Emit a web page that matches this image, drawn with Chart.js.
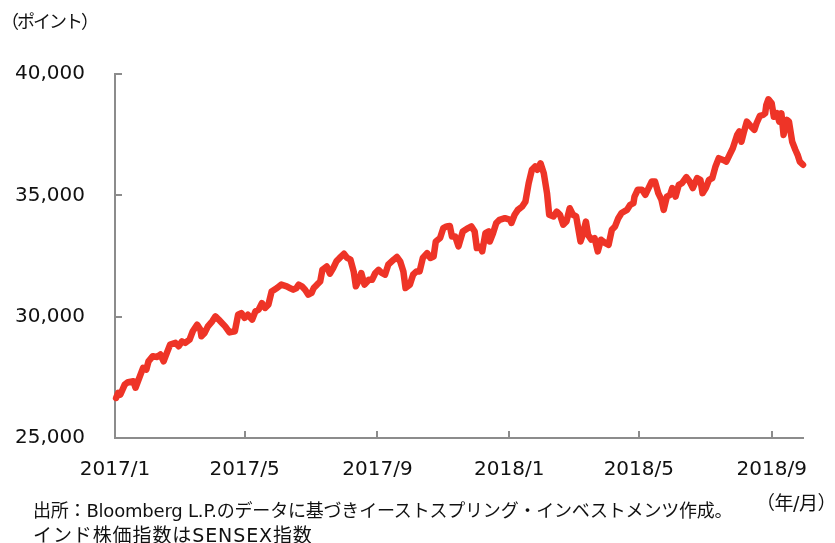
<!DOCTYPE html>
<html>
<head>
<meta charset="utf-8">
<script src="https://cdn.jsdelivr.net/npm/chart.js@4"></script>
<style>
  body { margin: 0; background: #fff; }
  #wrap { position: relative; width: 835px; height: 543px; }
  .note { position: absolute; white-space: nowrap; color: #111;
          font-family: "DejaVu Sans", "Noto Sans CJK JP", sans-serif; line-height: 20px; }
</style>
</head>
<body>
<div id="wrap">
  <canvas id="sensexChart"></canvas>
  <div class="note" id="unitY" style="left:1px; top:12px; font-size:18px; letter-spacing:-2px;">（ポイント）</div>
  <div class="note" id="unitX" style="left:756px; top:493px; font-size:19px; letter-spacing:-0.5px;">（年/月）</div>
  <div class="note" id="src1" style="left:33px; top:501px; font-size:18px; letter-spacing:-0.2px;">出所：Bloomberg L.P.のデータに基づきイーストスプリング・インベストメンツ作成。</div>
  <div class="note" id="src2" style="left:33px; top:525px; font-size:19px; letter-spacing:0.9px;">インド株価指数はSENSEX指数</div>
</div>
<script>
// SENSEX index
const dates = [
  "2017-01-02","2017-01-04","2017-01-06","2017-01-10","2017-01-13","2017-01-18","2017-01-20","2017-01-24","2017-01-27","2017-01-30",
  "2017-02-01","2017-02-05","2017-02-09","2017-02-12","2017-02-15","2017-02-18","2017-02-21","2017-02-26",
  "2017-03-01","2017-03-04","2017-03-07","2017-03-11","2017-03-14","2017-03-18","2017-03-21","2017-03-22","2017-03-25","2017-03-28",
  "2017-04-01","2017-04-04","2017-04-07","2017-04-10","2017-04-13","2017-04-17","2017-04-22","2017-04-25","2017-04-28",
  "2017-05-01","2017-05-04","2017-05-08","2017-05-11","2017-05-14","2017-05-17","2017-05-20","2017-05-23","2017-05-26","2017-05-31",
  "2017-06-04","2017-06-09","2017-06-12","2017-06-15","2017-06-18","2017-06-20","2017-06-23","2017-06-26","2017-06-29",
  "2017-07-02","2017-07-04","2017-07-07","2017-07-10","2017-07-12","2017-07-16","2017-07-19","2017-07-22","2017-07-25","2017-07-28",
  "2017-08-01","2017-08-04","2017-08-07","2017-08-10","2017-08-12","2017-08-15","2017-08-17","2017-08-20","2017-08-24","2017-08-27","2017-08-30",
  "2017-09-02","2017-09-05","2017-09-08","2017-09-11","2017-09-16","2017-09-19","2017-09-22","2017-09-25","2017-09-27",
  "2017-10-01","2017-10-04","2017-10-07","2017-10-10","2017-10-13","2017-10-17","2017-10-20","2017-10-23","2017-10-25","2017-10-29",
  "2017-11-01","2017-11-04","2017-11-07","2017-11-09","2017-11-12","2017-11-15","2017-11-19","2017-11-24","2017-11-27","2017-11-30",
  "2017-12-02","2017-12-05","2017-12-07","2017-12-10","2017-12-13","2017-12-14","2017-12-17","2017-12-20","2017-12-23","2017-12-28",
  "2018-01-02","2018-01-03","2018-01-06","2018-01-09","2018-01-13","2018-01-16","2018-01-19","2018-01-22","2018-01-25","2018-01-27","2018-01-30",
  "2018-02-02","2018-02-05","2018-02-07","2018-02-11","2018-02-14","2018-02-17","2018-02-20","2018-02-23","2018-02-26",
  "2018-03-01","2018-03-04","2018-03-08","2018-03-10","2018-03-13","2018-03-15","2018-03-18","2018-03-21","2018-03-24","2018-03-27","2018-03-31",
  "2018-04-03","2018-04-06","2018-04-09","2018-04-12","2018-04-15","2018-04-20","2018-04-23","2018-04-26","2018-04-27","2018-04-30",
  "2018-05-04","2018-05-07","2018-05-10","2018-05-13","2018-05-16","2018-05-19","2018-05-22","2018-05-24","2018-05-27","2018-05-30",
  "2018-06-01","2018-06-04","2018-06-07","2018-06-10","2018-06-14","2018-06-17","2018-06-20","2018-06-24","2018-06-27","2018-06-29",
  "2018-07-02","2018-07-05","2018-07-08","2018-07-11","2018-07-14","2018-07-18","2018-07-21","2018-07-24","2018-07-27","2018-07-31",
  "2018-08-02","2018-08-04","2018-08-06","2018-08-09","2018-08-13","2018-08-16","2018-08-18","2018-08-21","2018-08-24","2018-08-26","2018-08-27","2018-08-29",
  "2018-09-01","2018-09-03","2018-09-06","2018-09-08","2018-09-10","2018-09-12","2018-09-15","2018-09-17","2018-09-20","2018-09-23","2018-09-25","2018-09-27","2018-09-30"
];

const sensex = [
  26650,26860,26790,27200,27300,27340,27070,27540,27890,27820,
  28160,28370,28340,28440,28160,28510,28850,28920,
  28780,28980,28920,29050,29400,29670,29470,29190,29330,29600,
  29810,30010,29880,29740,29600,29350,29400,30080,30150,
  29950,30080,29880,30220,30290,30560,30360,30490,31040,31180,
  31320,31250,31180,31110,31180,31320,31250,31110,30910,
  30980,31180,31320,31450,31930,32070,31770,32000,32280,32420,
  32590,32420,32350,31860,31250,31520,31800,31320,31520,31520,31800,
  31930,31800,31730,32140,32350,32460,32280,31860,31180,
  31320,31730,31860,31860,32420,32620,32420,32480,33100,33240,
  33650,33720,33740,33300,33300,32900,33510,33650,33720,33510,
  32830,32890,32690,33440,33510,33100,33440,33860,33990,34060,
  33990,33860,34200,34400,34540,34740,35500,36050,36190,36050,36320,
  35910,35090,34200,34130,34330,34200,33790,33920,34470,
  34200,34130,33100,33370,33920,33370,33170,33240,32690,33170,33030,
  32960,33580,33720,34060,34270,34400,34610,34680,34950,35230,
  35230,35020,35300,35570,35570,35090,34810,34400,34950,35020,
  35300,34950,35430,35500,35750,35570,35300,35710,35640,35090,
  35300,35640,35710,36190,36530,36460,36390,36670,36940,37490,
  37630,37210,37560,38040,37830,37700,37970,38270,38310,38380,38720,38960,
  38790,38240,38380,38040,38380,37490,38110,38040,37210,36870,36670,36390,36260
];

const xTickMonths = ["2017-01-01","2017-05-01","2017-09-01","2018-01-01","2018-05-01","2018-09-01"];
const yTicks = [25000, 30000, 35000, 40000];
const xStart = "2017-01-01";
const xEnd = "2018-09-30";

const toMs = s => Date.parse(s + "T00:00:00Z");
const axisColor = "#8c8c8c";

// short tick marks pointing into the plot area
const innerTicks = {
  id: "innerTicks",
  afterDraw(chart) {
    const { ctx, chartArea, scales } = chart;
    ctx.save();
    ctx.strokeStyle = axisColor;
    ctx.lineWidth = 2;
    ctx.beginPath();
    yTicks.forEach(v => {
      const y = Math.round(scales.y.getPixelForValue(v));
      ctx.moveTo(chartArea.left, y);
      ctx.lineTo(chartArea.left + 7, y);
    });
    xTickMonths.forEach(d => {
      const x = Math.round(scales.x.getPixelForValue(toMs(d)));
      ctx.moveTo(x, chartArea.bottom);
      ctx.lineTo(x, chartArea.bottom - 7);
    });
    ctx.stroke();
    ctx.restore();
  }
};

const points = dates.map((d, i) => ({ x: toMs(d), y: sensex[i] }));

new Chart(document.getElementById("sensexChart"), {
  type: "line",
  data: {
    datasets: [{
      data: points,
      borderColor: "#ee3427",
      borderWidth: 6.5,
      pointRadius: 0,
      tension: 0,
      fill: false,
      clip: false,
      borderJoinStyle: "round",
      borderCapStyle: "round"
    }]
  },
  options: {
    responsive: true,
    maintainAspectRatio: false,
    animation: false,
    layout: { padding: { top: 74, right: 32, bottom: 0, left: 0 } },
    plugins: { legend: { display: false }, tooltip: { enabled: false } },
    scales: {
      x: {
        type: "linear",
        min: toMs(xStart),
        max: toMs(xEnd),
        grid: { display: false, drawTicks: false },
        border: { display: true, color: axisColor, width: 2 },
        afterBuildTicks: scale => { scale.ticks = xTickMonths.map(d => ({ value: toMs(d) })); },
        afterFit: scale => { scale.height = 105; },
        ticks: {
          autoSkip: false,
          maxRotation: 0,
          padding: 20,
          color: "#111",
          font: { family: "DejaVu Sans", size: 20 },
          callback: v => {
            const d = new Date(v);
            return d.getUTCFullYear() + "/" + (d.getUTCMonth() + 1);
          }
        }
      },
      y: {
        min: 25000,
        max: 40000,
        grid: { display: false, drawTicks: false },
        border: { display: true, color: axisColor, width: 2 },
        afterBuildTicks: scale => { scale.ticks = yTicks.map(v => ({ value: v })); },
        afterFit: scale => { scale.width = 115; },
        ticks: {
          padding: 30,
          color: "#111",
          font: { family: "DejaVu Sans", size: 20 },
          callback: v => v.toLocaleString("en-US")
        }
      }
    }
  },
  plugins: [innerTicks]
});
</script>
</body>
</html>
